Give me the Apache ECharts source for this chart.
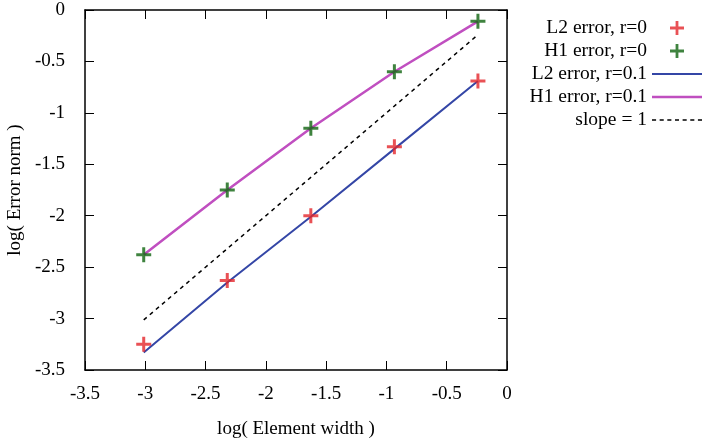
<!DOCTYPE html>
<html>
<head>
<meta charset="utf-8">
<script src="https://cdn.jsdelivr.net/npm/echarts@6/dist/echarts.min.js"></script>
<style>
  html, body { margin: 0; padding: 0; background: #fff; }
  #chart { width: 707px; height: 443px; }
</style>
</head>
<body>
<div id="chart"></div>
<script>
// log of element width
var xVals = [-3.013, -2.320, -1.627, -0.934, -0.241];
var l2r0 = [-3.25, -2.63, -2.00, -1.33, -0.69];
var h1r0 = [-2.38, -1.75, -1.15, -0.60, -0.11];
var l2r01 = [-3.33, -2.65, -2.01, -1.35, -0.69];
var h1r01 = [-2.38, -1.75, -1.15, -0.60, -0.11];
var slopeX = [-3.013, -0.241];
var slopeY = [-3.013, -0.241];

var names = ["L2 error, r=0", "H1 error, r=0", "L2 error, r=0.1", "H1 error, r=0.1", "slope = 1"];
var plus = "path://M4,0h2v4h4v2h-4v4h-2v-4h-4v-2h4z";
var lineIcon = "path://M0,0h50v2h-50z";
var thickIcon = "path://M0,0h50v2.6h-50z";
var dashIcon = "path://M0,0h4v1.6h-4z M7.5,0h4v1.6h-4z M15,0h4v1.6h-4z M22.5,0h4v1.6h-4z M30,0h4v1.6h-4z M37.5,0h4v1.6h-4z M45,0h4v1.6h-4z";
var font = "Liberation Serif";

function pairs(xs, ys) {
  return xs.map(function (x, i) { return [x, ys[i]]; });
}

var chart = echarts.init(document.getElementById("chart"));
function axis(extra) {
  return Object.assign({
    type: "value",
    min: -3.5,
    max: 0,
    interval: 0.5,
    axisLine: { show: true, onZero: false, lineStyle: { color: "#000", width: 1.5 } },
    axisTick: { show: true, inside: true, length: 9, lineStyle: { color: "#000", width: 1 } },
    splitLine: { show: false }
  }, extra);
}
var option = {
  animation: false,
  textStyle: { fontFamily: font },
  grid: { left: 85, right: 200, top: 10, bottom: 73, outerBoundsMode: "none", containLabel: false },
  xAxis: [
    axis({
      position: "bottom",
      name: "log( Element width )",
      nameLocation: "middle",
      nameGap: 50,
      nameTextStyle: { fontSize: 19, color: "#000", fontFamily: font },
      axisLabel: { fontSize: 19, color: "#000", margin: 15, fontFamily: font }
    }),
    axis({ position: "top", axisLabel: { show: false } })
  ],
  yAxis: [
    axis({
      position: "left",
      name: "log( Error norm )",
      nameLocation: "middle",
      nameGap: 59,
      nameTextStyle: { fontSize: 19, color: "#000", fontFamily: font },
      axisLabel: { fontSize: 19, color: "#000", margin: 20, fontFamily: font }
    }),
    axis({ position: "right", axisLabel: { show: false } })
  ],
  legend: {
    orient: "vertical",
    right: 0,
    top: 13,
    align: "right",
    itemWidth: 50,
    itemHeight: 14,
    itemGap: 3,
    textStyle: { fontSize: 19.5, color: "#000", fontFamily: font, lineHeight: 19.5 },
    data: [
      { name: names[0], icon: plus },
      { name: names[1], icon: plus },
      { name: names[2], icon: lineIcon },
      { name: names[3], icon: thickIcon },
      { name: names[4], icon: dashIcon }
    ]
  },
  series: [
    {
      name: names[2], type: "line", data: pairs(xVals, l2r01), symbol: "none",
      lineStyle: { color: "#3446a6", width: 2 }, itemStyle: { color: "#3446a6" }, z: 2
    },
    {
      name: names[3], type: "line", data: pairs(xVals, h1r01), symbol: "none",
      lineStyle: { color: "#c04fc0", width: 2.5 }, itemStyle: { color: "#c04fc0" }, z: 2
    },
    {
      name: names[4], type: "line", data: pairs(slopeX, slopeY), symbol: "none",
      lineStyle: { color: "#000", width: 1.5, type: [4, 4] }, itemStyle: { color: "#000" }, z: 2
    },
    {
      name: names[0], type: "scatter", data: pairs(xVals, l2r0), symbol: plus, symbolSize: 15,
      itemStyle: { color: "#e3262a" }, z: 3
    },
    {
      name: names[1], type: "scatter", data: pairs(xVals, h1r0), symbol: plus, symbolSize: 15,
      itemStyle: { color: "#0f640f" }, z: 3
    }
  ]
};
chart.setOption(option);
</script>
</body>
</html>
